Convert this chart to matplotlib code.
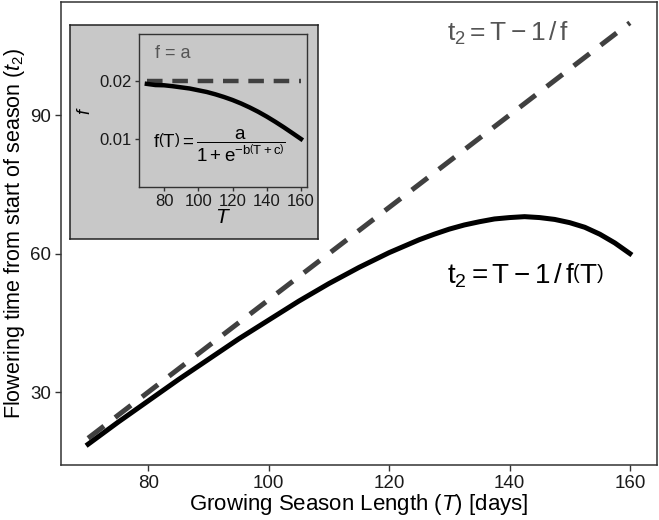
import matplotlib.pyplot as plt

plt.rcParams['font.family'] = ['Liberation Sans', 'DejaVu Sans']
plt.rcParams['mathtext.fontset'] = 'custom'
plt.rcParams['mathtext.rm'] = 'Liberation Sans'
plt.rcParams['mathtext.it'] = 'Liberation Sans:italic'
plt.rcParams['mathtext.bf'] = 'Liberation Sans:bold'

# growing season length T (days)
season_T = [70, 75, 80, 85, 90, 95, 100, 105, 110, 115, 120, 125, 127.5,
            130, 132.5, 135, 137.5, 140, 142.5, 145, 147.5, 150, 152.5,
            155, 157.5, 160]
# flowering time t2 = T - 1/f(T)
t2_logistic = [18.7, 23.5, 28.1, 32.7, 37.1, 41.5, 45.6, 49.7, 53.5, 57.0,
               60.2, 63.0, 64.2, 65.3, 66.2, 66.9, 67.5, 67.8, 68.0, 67.8,
               67.4, 66.7, 65.7, 64.2, 62.3, 60.0]
# constant f case: t2 = T - 1/f
dash_T = [70, 160]
t2_const = [20, 110]

# inset: f(T)
inset_T = [70, 75, 80, 85, 90, 95, 100, 105, 110, 115, 120, 125, 130,
           135, 140, 145, 150, 155, 160]
f_logistic = [0.0195, 0.0193, 0.01926, 0.0191, 0.0189, 0.0187, 0.0184,
              0.0181, 0.0177, 0.01724, 0.01672, 0.01612, 0.01544, 0.01469,
              0.01386, 0.01296, 0.01201, 0.01101, 0.0100]
f_const = [0.02, 0.02]

grey_line = '#404040'
panel_grey = '#c8c8c8'
text_col = '#1a1a1a'

fig = plt.figure(figsize=(6.59, 5.2), dpi=100)
ax = fig.add_axes([61 / 659, 55 / 520, 596 / 659, 463 / 520])

ax.plot(dash_T, t2_const, color=grey_line, lw=3.6, dashes=(4, 2.8),
        solid_capstyle='butt', dash_capstyle='butt')
ax.plot(season_T, t2_logistic, color='black', lw=3.6,
        solid_joinstyle='round')

ax.set_xlim(65.5, 164.5)
ax.set_ylim(14.2, 114.5)
ax.set_xticks([80, 100, 120, 140, 160])
ax.set_yticks([30, 60, 90])
ax.tick_params(direction='out', length=4, width=1, color='#333333',
               labelsize=13.5, labelcolor=text_col, pad=3)
for s in ax.spines.values():
    s.set_color('#333333')
    s.set_linewidth(1.1)

ax.set_xlabel(r'Growing Season Length ($\mathit{T}$) [days]', fontsize=16,
              labelpad=0)
ax.set_ylabel(r'Flowering time from start of season ($\mathit{t}_2$)',
              fontsize=15.5, labelpad=2)

ax.text(129.6, 107.8, r'$\mathrm{t_2 = T - 1\,/\,f}$', color='#555555',
        fontsize=19, ha='left', va='center')
ax.text(129.6, 55.2, r'$\mathrm{t_2 = T - 1\,/\,f\left(T\right)}$',
        color='black', fontsize=20, ha='left', va='center')

# inset box
box = fig.add_axes([70 / 659, 281 / 520, 248 / 659, 214 / 520])
box.set_facecolor(panel_grey)
box.set_xticks([])
box.set_yticks([])
for s in box.spines.values():
    s.set_color('#222222')
    s.set_linewidth(1.1)

ins = fig.add_axes([139 / 659, 333 / 520, 168 / 659, 153 / 520])
ins.set_facecolor(panel_grey)
ins.plot(dash_T, f_const, color=grey_line, lw=3.2, dashes=(3.5, 2.2),
         dash_capstyle='butt')
ins.plot(inset_T, f_logistic, color='black', lw=3.2)
ins.set_xlim(65.4, 163.5)
ins.set_ylim(0.00172, 0.0281)
ins.set_xticks([80, 100, 120, 140, 160])
ins.set_yticks([0.01, 0.02])
ins.set_yticklabels(['0.01', '0.02'])
ins.tick_params(direction='out', length=3, width=1, color='#333333',
                labelsize=12, labelcolor=text_col, pad=2)
for s in ins.spines.values():
    s.set_color('#333333')
    s.set_linewidth(1.0)
ins.set_xlabel(r'$\mathit{T}$', fontsize=15, labelpad=-1)
ins.set_ylabel(r'$\mathit{f}$', fontsize=13, labelpad=4)

ins.text(74.5, 0.0248, 'f = a', color='#555555', fontsize=13,
         ha='left', va='center')
ins.text(112, 0.0088,
         r'$\mathrm{f\left(T\right) = \dfrac{a}{1 + e^{-b\left(T+c\right)}}}$',
         color='black', fontsize=13.5, ha='center', va='center')

fig.savefig('out.png', dpi=100)
